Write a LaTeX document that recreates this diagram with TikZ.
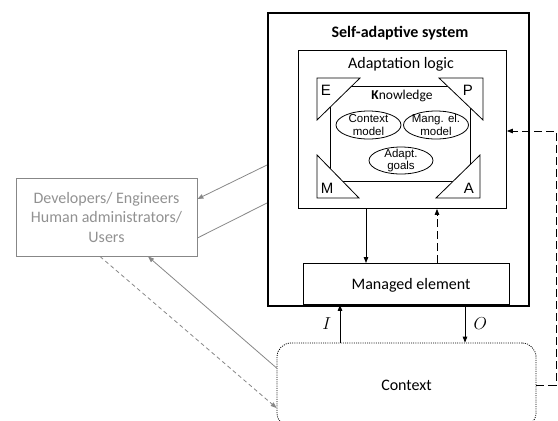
\documentclass[tikz,border=0pt]{standalone}
\usepackage{fontspec}
\setmainfont{Carlito}
\newfontfamily\arialfont{Liberation Sans}
\usetikzlibrary{arrows.meta,shapes.geometric}
\definecolor{lgray}{RGB}{135,135,135}
\definecolor{tgray}{RGB}{145,145,145}
\begin{document}
\begin{tikzpicture}[x=1pt,y=-1pt,
  box/.style={draw,line width=0.9pt,inner sep=0pt,anchor=north west},
  arr/.style={-{Triangle[length=6pt,width=4.5pt]}},
  dsh/.style={dash pattern=on 8pt off 4pt},
  elltext/.style={inner sep=0pt,align=center,
    font=\arialfont\fontsize{11.5}{12.7}\selectfont},
  ellline/.style={draw,line width=0.8pt},
  corner/.style={draw,fill=white,line width=0.8pt,line join=miter},
  letter/.style={font=\arialfont\fontsize{15}{15}\selectfont,inner sep=0pt},
  gline/.style={draw=lgray,line width=0.8pt},
]
\useasboundingbox (0,0) rectangle (558,421);

% system boundary
\node[box,line width=1.8pt,minimum width=261,minimum height=293] (sys) at (267,12) {};
\node[font=\fontsize{16}{16}\selectfont\bfseries] (systitle) at (400,33) {Self-adaptive system};

% adaptation logic
\node[box,minimum width=208,minimum height=158] (adapt) at (298,50) {};
\node[font=\fontsize{16}{16}\selectfont] (adtitle) at (401,64) {Adaptation logic};

% knowledge
\node[box,line width=0.8pt,minimum width=140,minimum height=95] (know) at (330,86) {};
\node[font=\fontsize{13.5}{13.5}\selectfont] (ktitle) at (402,96) {\textbf{K}nowledge};

% knowledge models
\node[elltext] (cm) at (368.5,125) {Context\\model};
\node[elltext] (mm) at (436,125) {Mang. el.\\model};
\node[elltext] (ag) at (401,160.5) {Adapt.\\goals};
\draw[ellline] (cm.center) ellipse [x radius=32.5, y radius=14];
\draw[ellline] (mm.center) ellipse [x radius=32.5, y radius=14];
\draw[ellline] (ag.center) ellipse [x radius=32, y radius=13.5];

% MAPE-K corners
\path[corner] (317,78) -- (360,78) -- (317,120) -- cycle;
\path[corner] (439,78) -- (483,78) -- (483,120) -- cycle;
\path[corner] (317,155) -- (317,198) -- (359,198) -- cycle;
\path[corner] (480,155) -- (480,198) -- (436,198) -- cycle;
\node[letter] (le) at (326,90) {E};
\node[letter] (lp) at (468,90) {P};
\node[letter] (lm) at (327,188) {M};
\node[letter] (la) at (469,188) {A};

% managed element
\node[box,minimum width=206,minimum height=41] (me) at (303,263) {};
\node[font=\fontsize{16}{16}\selectfont] (metext) at (411,285) {Managed element};

% context
\node[draw,rounded corners=14pt,line width=0.8pt,dash pattern=on 1pt off 1.2pt,
  minimum width=259,minimum height=84,inner sep=0pt,
  font=\fontsize{16}{16}\selectfont] (ctx) at (406.5,385) {Context};

% human actors
\node[draw=lgray,line width=0.8pt,minimum width=181,minimum height=78,inner sep=0pt,
  text=tgray,align=center,font=\fontsize{16}{19.5}\selectfont] (dev) at (106.5,217)
  {Developers/ Engineers\\Human administrators/\\Users};

% helper positions for vertical links
\coordinate (xe) at (366,0);
\coordinate (xd) at (437,0);
\coordinate (xi) at (340,0);
\coordinate (xo) at (465,0);
\coordinate (fb) at (556,131);

% internal control loop
\draw[arr,line width=0.8pt] (adapt.south -| xe) -- (me.north -| xe);
\draw[arr,dsh,line width=0.8pt] (me.north -| xd) -- (adapt.south -| xd);

% input / output
\draw[arr,line width=0.8pt] (ctx.north -| xi) -- (me.south -| xi)
  node[pos=0.5,left=5pt,font=\fontsize{16}{16}\selectfont] (lI) {$I$};
\draw[arr,line width=0.8pt] (me.south -| xo) -- (ctx.north -| xo)
  node[pos=0.5,right=5pt,font=\fontsize{16}{16}\selectfont] (lO) {$O$};

% context feedback to adaptation logic
\draw[arr,dsh,line width=0.8pt] (ctx.east) -| (fb) -- (adapt.east |- fb);

% links with humans
\draw[gline,-{Triangle[length=6pt,width=4.5pt]}] (sys.west |- 0,165) -- (dev.east |- 0,199);
\draw[gline] (sys.west |- 0,203) -- (dev.east |- 0,238);
\draw[gline,-{Triangle[length=6pt,width=4.5pt]}] (ctx.west |- 0,368) -- (148,256.5);
\draw[gline,dash pattern=on 4pt off 3pt,-{Triangle[length=6pt,width=4.5pt]}] (100,256.5) -- (ctx.west |- 0,408);
\end{tikzpicture}
\end{document}
